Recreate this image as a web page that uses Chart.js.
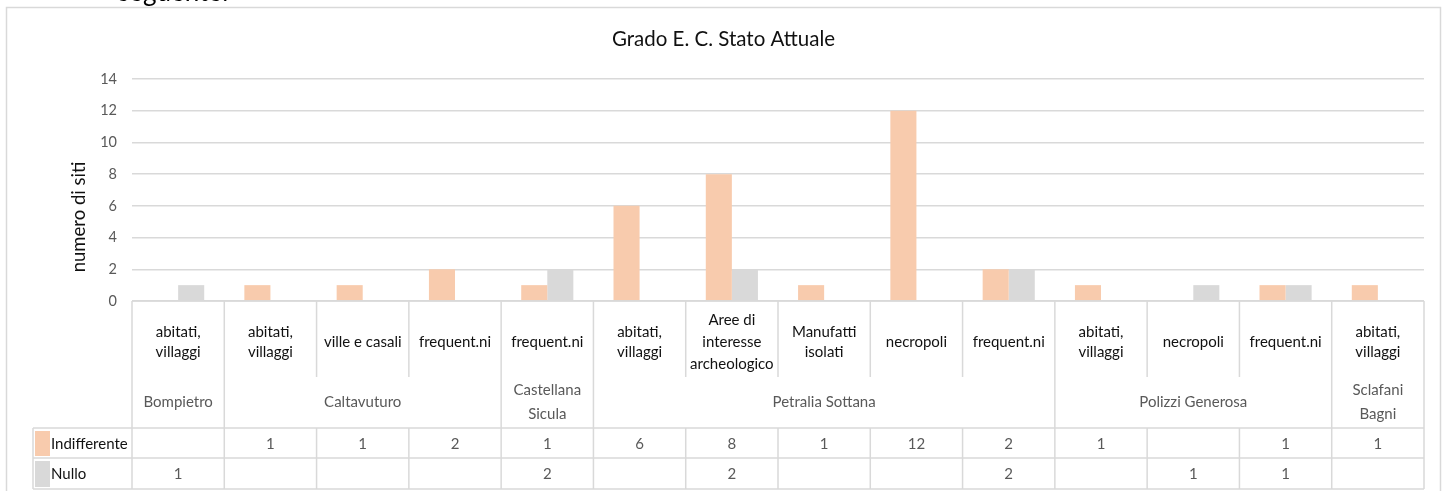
<!DOCTYPE html>
<html>
<head>
<meta charset="utf-8">
<title>Grado E. C. Stato Attuale</title>
<script src="https://cdn.jsdelivr.net/npm/chart.js@4.4.1/dist/chart.umd.min.js"></script>
<style>
body{margin:0;background:#fff;overflow:hidden;}
#wrap{position:relative;width:1447px;height:491px;}
#doc{position:absolute;left:118px;top:-25.5px;font-family:Lato,sans-serif;font-size:26px;color:#000;z-index:2;}
</style>
</head>
<body>
<div id="wrap">
<div id="doc">seguente:</div>
<canvas id="chart" width="1447" height="491"></canvas>
</div>
<script>

const tipologie = [
["abitati,","villaggi"],["abitati,","villaggi"],["ville e casali"],["frequent.ni"],
["frequent.ni"],["abitati,","villaggi"],["Aree di","interesse","archeologico"],["Manufatti","isolati"],
["necropoli"],["frequent.ni"],["abitati,","villaggi"],["necropoli"],["frequent.ni"],["abitati,","villaggi"]
];
const comuni = [
"Bompietro","Caltavuturo","Caltavuturo","Caltavuturo","Castellana Sicula",
"Petralia Sottana","Petralia Sottana","Petralia Sottana","Petralia Sottana","Petralia Sottana",
"Polizzi Generosa","Polizzi Generosa","Polizzi Generosa","Sclafani Bagni"
];
const indifferente = [null,1,1,2,1,6,8,1,12,2,1,null,1,1];
const nullo = [1,null,null,null,2,null,2,null,null,2,null,1,1,null];
const yTicks = [0,2,4,6,8,10,12,14];

const FONT = "Lato, sans-serif";
const LINE = "#d9d9d9";

function wrapText(ctx, text, maxW){
let words = text.split(" ");
let lines = [];
let cur = "";
words.forEach(w => {
let t = cur ? cur + " " + w : w;
if(ctx.measureText(t).width > maxW && cur){
lines.push(cur);
cur = w;
} else {
cur = t;
}
});
lines.push(cur);
return lines;
}

function drawLines(ctx, lines, cx, cy, lh){
let y0 = cy - (lines.length-1)*lh/2;
lines.forEach((l,i) => ctx.fillText(l, cx, y0 + i*lh));
}

const frame = {
id:"frame",
beforeDraw(chart){
let ctx = chart.ctx;
ctx.save();
ctx.fillStyle = "#fff";
ctx.fillRect(0,0,chart.width,chart.height);
ctx.strokeStyle = LINE;
ctx.lineWidth = 1.5;
ctx.strokeRect(6.5,7.5,1434,520);
ctx.restore();
}
};

const dataTable = {
id:"dataTable",
afterDraw(chart){
let ctx = chart.ctx;
let x = chart.scales.x;
let area = chart.chartArea;
let n = tipologie.length;
let w = (area.right - area.left)/n;
let top = area.bottom;
let r1 = top + 76, r2 = top + 127, r3 = top + 157, r4 = top + 188;
let legL = 33;

ctx.save();
ctx.strokeStyle = LINE;
ctx.lineWidth = 1.5;

function line(x1,y1,x2,y2){
ctx.beginPath();
ctx.moveTo(x1,y1);
ctx.lineTo(x2,y2);
ctx.stroke();
}

line(area.left, top, area.right, top);
line(legL, r2, area.right, r2);
line(legL, r3, area.right, r3);
line(legL, r4, area.right, r4);
line(legL, r2, legL, r4);

for(let i=0;i<=n;i++){
let bx = area.left + i*w;
line(bx, top, bx, r1);
line(bx, r2, bx, r4);
if(i==0 || i==n || comuni[i] !== comuni[i-1]){
line(bx, r1, bx, r2);
}
}

// y axis title
ctx.save();
ctx.translate(79, 217);
ctx.rotate(-Math.PI/2);
ctx.textAlign = "center";
ctx.textBaseline = "middle";
ctx.fillStyle = "#111";
ctx.font = "18.5px " + FONT;
ctx.fillText("numero di siti", 0, 0);
ctx.restore();

ctx.textAlign = "center";
ctx.textBaseline = "middle";
ctx.font = "15px " + FONT;

tipologie.forEach((t,i) => {
let cx = x.getPixelForValue(i);
ctx.fillStyle = "#111";
drawLines(ctx, t, cx, (top + r1)/2 + 3, t.length > 2 ? 22 : 20);
});

let start = 0;
for(let i=1;i<=n;i++){
if(i==n || comuni[i] !== comuni[start]){
let cx = area.left + (start + i)/2*w;
ctx.fillStyle = "#595959";
let lines = wrapText(ctx, comuni[start], (i-start)*w - 14);
drawLines(ctx, lines, cx, (r1 + r2)/2, 24);
start = i;
}
}

ctx.fillStyle = "#595959";
indifferente.forEach((v,i) => {
if(v !== null) ctx.fillText(String(v), x.getPixelForValue(i), (r2 + r3)/2 + 1);
});
nullo.forEach((v,i) => {
if(v !== null) ctx.fillText(String(v), x.getPixelForValue(i), (r3 + r4)/2 + 1);
});

let ds = chart.data.datasets;
let rows = [[r2,r3],[r3,r4]];
ds.forEach((d,k) => {
let ry = rows[k];
ctx.fillStyle = d.backgroundColor;
ctx.fillRect(legL + 2, ry[0] + 3, 15, ry[1] - ry[0] - 5);
ctx.fillStyle = "#111";
ctx.textAlign = "left";
ctx.fillText(d.label, legL + 18, (ry[0] + ry[1])/2 + 1);
});

ctx.restore();
}
};

new Chart(document.getElementById("chart"), {
type:"bar",
data:{
labels:tipologie.map(t => t.join(" ")),
datasets:[
{label:"Indifferente", data:indifferente, backgroundColor:"#f8cbad"},
{label:"Nullo", data:nullo, backgroundColor:"#d9d9d9"}
]
},
options:{
responsive:false,
animation:false,
maintainAspectRatio:false,
layout:{padding:{top:10,left:23,right:23,bottom:190}},
datasets:{bar:{categoryPercentage:0.565, barPercentage:1}},
plugins:{
legend:{display:false},
tooltip:{enabled:false},
title:{
display:true,
text:"Grado E. C. Stato Attuale",
color:"#111",
font:{family:FONT, size:20.5, weight:"normal"},
padding:{top:17, bottom:27.4}
}
},
scales:{
x:{display:false},
y:{
min:0,
max:14,
afterBuildTicks(scale){
scale.ticks = yTicks.map(v => ({value:v}));
},
afterFit(scale){
scale.width = 109;
},
grid:{color:LINE, lineWidth:1.5, drawTicks:false},
border:{display:false},
ticks:{color:"#595959", font:{family:FONT, size:14.5}, padding:15}
}
}
},
plugins:[frame, dataTable]
});

</script>
</body>
</html>
